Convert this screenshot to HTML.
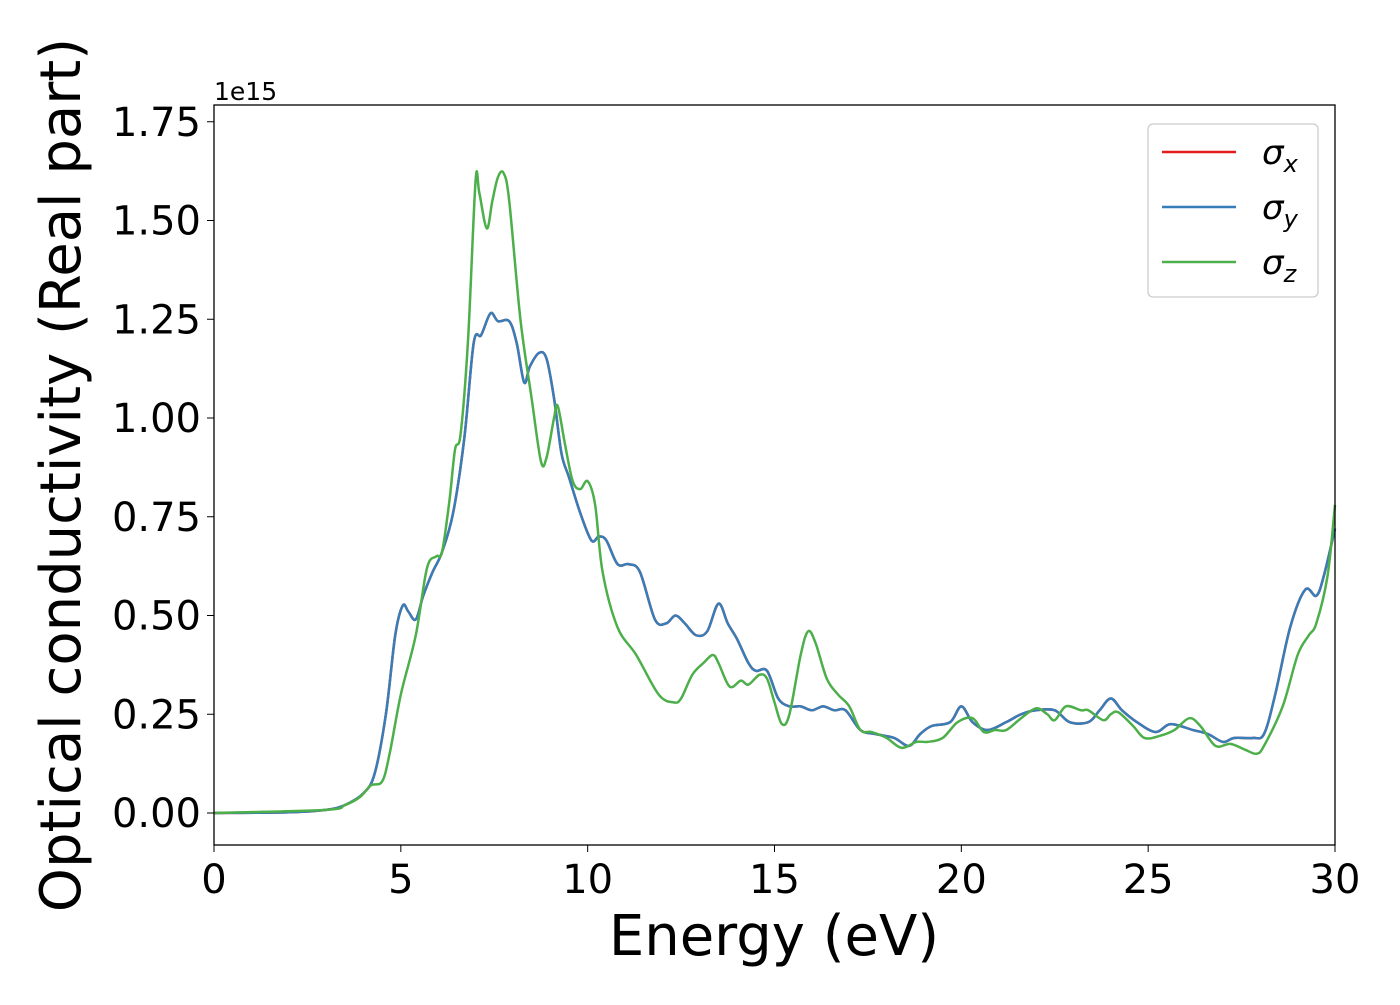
<!DOCTYPE html>
<html><head><meta charset="utf-8"><style>
body{margin:0;background:#fff;}
svg text{font-family:"DejaVu Sans","Liberation Sans",sans-serif;fill:#000;}
</style></head><body>
<svg id="chart" width="1400" height="1000" xmlns="http://www.w3.org/2000/svg">
<g id="ticks"></g>
<g id="series"></g>
<rect x="214" y="105" width="1121" height="740" fill="none" stroke="#000" stroke-width="1.3"/>
<text x="214" y="100" font-size="25">1e15</text>
<text x="774" y="955" font-size="56" text-anchor="middle">Energy (eV)</text>
<text transform="translate(80,475) rotate(-90)" font-size="56" text-anchor="middle">Optical conductivity (Real part)</text>
<g>
<rect x="1148" y="124" width="170" height="173" rx="5" fill="#fff" stroke="#ccc" stroke-width="1.3"/>
<line x1="1162" y1="152" x2="1236" y2="152" stroke="#e41a1c" stroke-width="2.5"/>
<text x="1262" y="164" font-size="34" font-style="italic">σ<tspan font-size="24" dy="8">x</tspan></text>
<line x1="1162" y1="207" x2="1236" y2="207" stroke="#377eb8" stroke-width="2.5"/>
<text x="1262" y="219" font-size="34" font-style="italic">σ<tspan font-size="24" dy="8">y</tspan></text>
<line x1="1162" y1="262" x2="1236" y2="262" stroke="#4daf4a" stroke-width="2.5"/>
<text x="1262" y="274" font-size="34" font-style="italic">σ<tspan font-size="24" dy="8">z</tspan></text>
</g>
</svg>
<script>
const xTicks=[0,5,10,15,20,25,30];
const yTicks=[0,0.25,0.5,0.75,1.0,1.25,1.5,1.75];
const yTickLabels=["0.00","0.25","0.50","0.75","1.00","1.25","1.50","1.75"];
const energyXY=[0,2,3,3.5,4,4.3,4.6,4.85,5.05,5.2,5.4,5.6,5.85,6.1,6.4,6.7,6.95,7.15,7.4,7.6,7.9,8.1,8.3,8.45,8.7,8.9,9.1,9.3,9.5,9.8,10.1,10.3,10.5,10.8,11.1,11.4,11.8,12.1,12.35,12.6,12.9,13.2,13.5,13.75,14,14.3,14.5,14.8,15.1,15.4,15.7,16,16.3,16.6,16.9,17.3,17.7,18.2,18.6,18.9,19.2,19.7,20,20.3,20.7,21.2,21.6,22,22.5,22.9,23.4,23.7,24,24.3,24.7,25.2,25.6,26.2,26.6,27,27.3,27.8,28.1,28.4,28.8,29.2,29.5,29.7,30];
const sigmaXY=[0,0.002,0.008,0.02,0.05,0.1,0.25,0.45,0.525,0.51,0.49,0.55,0.61,0.66,0.76,0.95,1.19,1.21,1.265,1.245,1.245,1.19,1.09,1.13,1.165,1.15,1.05,0.91,0.85,0.76,0.69,0.70,0.69,0.63,0.63,0.61,0.49,0.48,0.50,0.48,0.45,0.46,0.53,0.48,0.44,0.38,0.36,0.36,0.29,0.27,0.27,0.26,0.27,0.26,0.26,0.21,0.20,0.19,0.17,0.20,0.22,0.23,0.27,0.23,0.21,0.23,0.25,0.26,0.26,0.23,0.23,0.26,0.29,0.26,0.23,0.205,0.225,0.21,0.20,0.18,0.19,0.19,0.20,0.30,0.47,0.565,0.55,0.60,0.72];
const energyZ=[0,3,3.5,3.9,4.2,4.5,4.7,5,5.4,5.7,5.95,6.1,6.3,6.45,6.6,6.8,7,7.1,7.3,7.45,7.6,7.75,7.9,8.2,8.5,8.75,8.9,9.1,9.2,9.4,9.6,9.8,10,10.2,10.4,10.8,11.3,11.9,12.3,12.5,12.8,13.1,13.35,13.5,13.8,14.1,14.3,14.6,14.8,15,15.2,15.4,15.7,15.9,16.1,16.4,16.7,17,17.3,17.6,18,18.4,18.8,19.1,19.5,19.9,20.3,20.6,20.9,21.2,21.6,22,22.3,22.5,22.8,23.2,23.4,23.8,24,24.2,24.6,24.9,25.3,25.7,26.1,26.4,26.8,27.2,27.6,27.9,28.1,28.6,29,29.3,29.5,29.8,30];
const sigmaZ=[0,0.008,0.02,0.04,0.07,0.08,0.15,0.3,0.45,0.62,0.65,0.66,0.79,0.92,0.96,1.2,1.6,1.57,1.48,1.55,1.61,1.62,1.55,1.25,1.05,0.89,0.9,1.0,1.03,0.93,0.84,0.82,0.84,0.78,0.61,0.47,0.40,0.30,0.28,0.29,0.35,0.38,0.40,0.38,0.32,0.335,0.325,0.35,0.34,0.28,0.225,0.25,0.40,0.46,0.43,0.34,0.30,0.27,0.21,0.205,0.19,0.165,0.18,0.18,0.19,0.23,0.24,0.205,0.21,0.21,0.24,0.265,0.25,0.235,0.27,0.26,0.26,0.235,0.25,0.255,0.22,0.19,0.195,0.21,0.24,0.22,0.17,0.175,0.16,0.15,0.17,0.27,0.40,0.45,0.48,0.60,0.78];
const NS="http://www.w3.org/2000/svg";
function sx(v){return 214+v*(1121/30);}
function sy(v){return 813-v*395;}
function path(xs,ys){
 const p=xs.map((x,i)=>[sx(x),sy(ys[i])]);
 let d="M"+p[0][0]+","+p[0][1];
 for(let i=0;i<p.length-1;i++){
  const p0=p[i-1]||p[i],p1=p[i],p2=p[i+1],p3=p[i+2]||p2;
  const c1=[p1[0]+(p2[0]-p0[0])/6,p1[1]+(p2[1]-p0[1])/6];
  const c2=[p2[0]-(p3[0]-p1[0])/6,p2[1]-(p3[1]-p1[1])/6];
  d+=" C"+c1.join(",")+" "+c2.join(",")+" "+p2.join(",");
 }
 return d;
}
const ticks=document.getElementById("ticks");
xTicks.forEach(v=>{
 const l=document.createElementNS(NS,"line");
 
 
 l.setAttribute("x1",sx(v));l.setAttribute("x2",sx(v));l.setAttribute("y1",845);l.setAttribute("y2",852);l.setAttribute("stroke","#000");
 ticks.appendChild(l);
 const t=document.createElementNS(NS,"text");
 
 
 t.setAttribute("x",sx(v));t.setAttribute("y",893);t.setAttribute("font-size","40");t.setAttribute("text-anchor","middle");
 t.textContent=v;ticks.appendChild(t);
});
yTicks.forEach((v,i)=>{
 const l=document.createElementNS(NS,"line");
 
 
 l.setAttribute("x1",207);l.setAttribute("x2",214);l.setAttribute("y1",sy(v));l.setAttribute("y2",sy(v));l.setAttribute("stroke","#000");
 ticks.appendChild(l);
 const t=document.createElementNS(NS,"text");
 
 
 t.setAttribute("x",201);t.setAttribute("y",sy(v)+14);t.setAttribute("font-size","40");t.setAttribute("text-anchor","end");
 t.textContent=yTickLabels[i];ticks.appendChild(t);
});
const series=document.getElementById("series");
[["sigma-x-line","#e41a1c",energyXY,sigmaXY],["sigma-y-line","#377eb8",energyXY,sigmaXY],["sigma-z-line","#4daf4a",energyZ,sigmaZ]].forEach(s=>{
 const p=document.createElementNS(NS,"path");
 
 
 p.setAttribute("d",path(s[2],s[3]));p.setAttribute("fill","none");p.setAttribute("stroke",s[1]);p.setAttribute("stroke-width","2.5");
 series.appendChild(p);
});
</script>
</body></html>
